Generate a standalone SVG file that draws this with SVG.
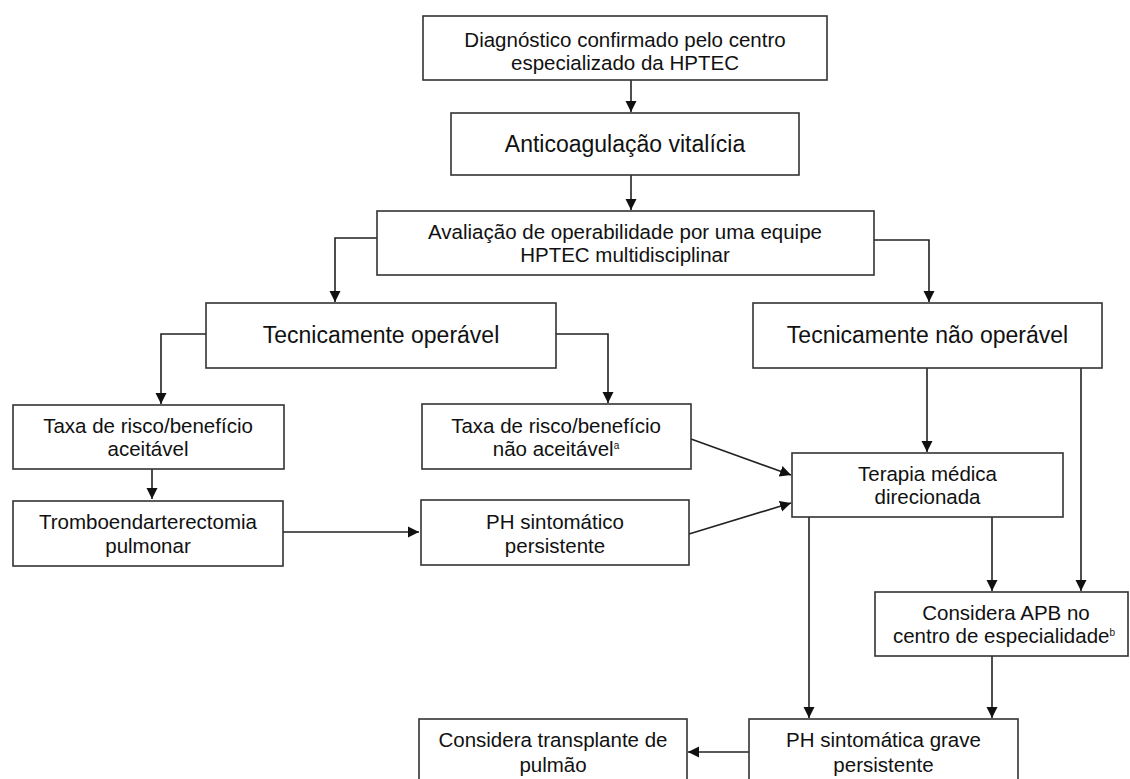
<svg xmlns="http://www.w3.org/2000/svg" width="1130" height="779" viewBox="0 0 1130 779">
<defs>
<marker id="arr" markerWidth="12" markerHeight="12" refX="11" refY="6" orient="auto" markerUnits="userSpaceOnUse">
<path d="M0,0.5 L11,6 L0,11.5 Z" fill="#111"/>
</marker>
<style>
.box{fill:#fff;stroke:#333;stroke-width:1.6}
.t{font-family:"Liberation Sans",Arial,sans-serif;font-size:20.5px;fill:#111;text-anchor:middle}
.big{font-size:23px}
.sup{font-size:10px}
.c{fill:none;stroke:#222;stroke-width:1.6}
.ca{fill:none;stroke:#222;stroke-width:1.6;marker-end:url(#arr)}
</style>
</defs>
<rect width="1130" height="779" fill="#fff"/>
<g id="connectors">
<path class="ca" d="M631,80 V112"/>
<path class="ca" d="M631,175 V210"/>
<path class="ca" d="M377,238 H335 V302"/>
<path class="ca" d="M874,240 H929 V302"/>
<path class="ca" d="M206,334 H161 V404"/>
<path class="ca" d="M556,334 H608 V403"/>
<path class="ca" d="M152,469 V499"/>
<path class="ca" d="M283,532 H419"/>
<path class="ca" d="M691,439 L791,475"/>
<path class="ca" d="M689,534 L791,503"/>
<path class="ca" d="M927,368 V452"/>
<path class="ca" d="M1081,368 V591"/>
<path class="ca" d="M992,517 V591"/>
<path class="ca" d="M809,517 V718"/>
<path class="ca" d="M992,656 V718"/>
<path class="ca" d="M749,752 H688"/>
</g>
<g id="n1">
<rect class="box" x="423" y="16" width="404" height="64"/>
<text class="t" x="625" y="47">Diagnóstico confirmado pelo centro</text>
<text class="t" x="625" y="70">especializado da HPTEC</text>
</g>
<g id="n2">
<rect class="box" x="451" y="113" width="348" height="62"/>
<text class="t big" x="625" y="152">Anticoagulação vitalícia</text>
</g>
<g id="n3">
<rect class="box" x="377" y="211" width="497" height="64"/>
<text class="t" x="625" y="239">Avaliação de operabilidade por uma equipe</text>
<text class="t" x="625" y="262">HPTEC multidisciplinar</text>
</g>
<g id="n4">
<rect class="box" x="206" y="303" width="350" height="65"/>
<text class="t big" x="381" y="343">Tecnicamente operável</text>
</g>
<g id="n5">
<rect class="box" x="753" y="303" width="349" height="65"/>
<text class="t big" x="927.5" y="343">Tecnicamente não operável</text>
</g>
<g id="n6">
<rect class="box" x="13" y="405" width="271" height="64"/>
<text class="t" x="148" y="433">Taxa de risco/benefício</text>
<text class="t" x="148" y="456">aceitável</text>
</g>
<g id="n7">
<rect class="box" x="422" y="404" width="269" height="65"/>
<text class="t" x="556" y="433">Taxa de risco/benefício</text>
<text class="t" x="556" y="456">não aceitável<tspan class="sup" dy="-7">a</tspan></text>
</g>
<g id="n8">
<rect class="box" x="792" y="453" width="271" height="64"/>
<text class="t" x="927.5" y="481">Terapia médica</text>
<text class="t" x="927.5" y="504">direcionada</text>
</g>
<g id="n9">
<rect class="box" x="13" y="501" width="270" height="65"/>
<text class="t" x="148" y="529">Tromboendarterectomia</text>
<text class="t" x="148" y="553">pulmonar</text>
</g>
<g id="n10">
<rect class="box" x="421" y="500" width="268" height="65"/>
<text class="t" x="555" y="529">PH sintomático</text>
<text class="t" x="555" y="553">persistente</text>
</g>
<g id="n11">
<rect class="box" x="875" y="592" width="253" height="64"/>
<text class="t" x="1006" y="620">Considera  APB no</text>
<text class="t" x="1004" y="643">centro de especialidade<tspan class="sup" dy="-7">b</tspan></text>
</g>
<g id="n12">
<rect class="box" x="749" y="719" width="269" height="66"/>
<text class="t" x="883.5" y="747">PH sintomática grave</text>
<text class="t" x="883.5" y="772">persistente</text>
</g>
<g id="n13">
<rect class="box" x="419" y="719" width="268" height="66"/>
<text class="t" x="553" y="747">Considera transplante de</text>
<text class="t" x="553" y="772">pulmão</text>
</g>
</svg>
